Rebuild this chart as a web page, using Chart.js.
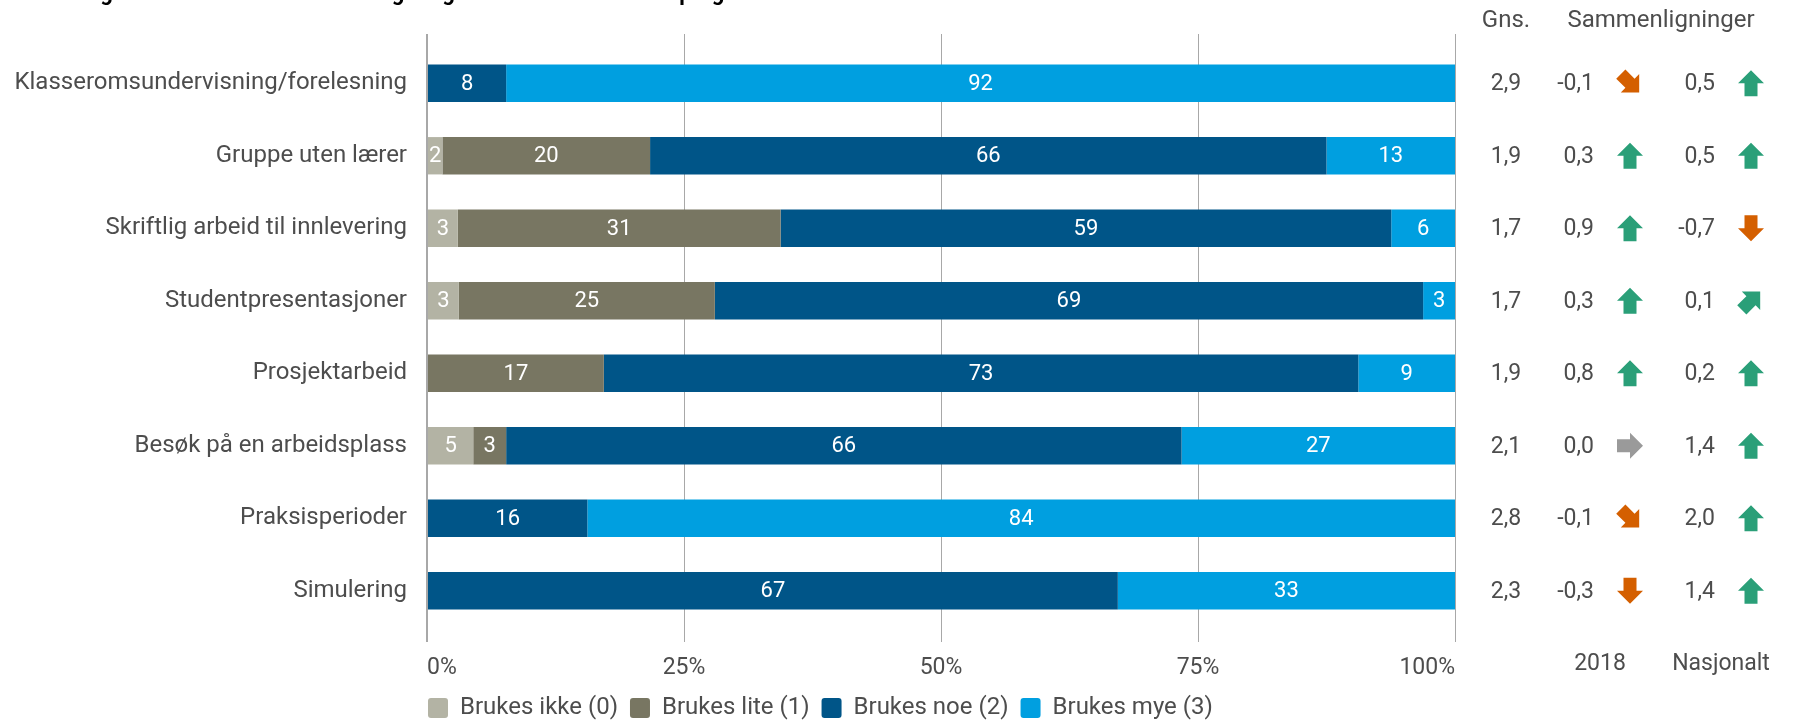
<!DOCTYPE html>
<html>
<head>
<meta charset="utf-8">
<script src="https://cdn.jsdelivr.net/npm/chart.js@4"></script>
<style>
html,body{margin:0;padding:0;background:#fff;}
#wrap{position:relative;width:1796px;height:722px;}
</style>
</head>
<body>
<div id="wrap"><canvas id="c" width="1796" height="722"></canvas></div>
<script>
const titleText = "I hvilken grad brukes ulike undervisnings- og arbeidsformer i studieprogrammet ditt?";
const categories = [
  "Klasseromsundervisning/forelesning",
  "Gruppe uten lærer",
  "Skriftlig arbeid til innlevering",
  "Studentpresentasjoner",
  "Prosjektarbeid",
  "Besøk på en arbeidsplass",
  "Praksisperioder",
  "Simulering"
];
const seriesNames = ["Brukes ikke (0)", "Brukes lite (1)", "Brukes noe (2)", "Brukes mye (3)"];
const brukesIkke = [0, 1.5, 3.0, 3.1, 0, 4.5, 0, 0];
const brukesLite = [0, 20.2, 31.4, 24.9, 17.2, 3.2, 0, 0];
const brukesNoe  = [7.7, 65.8, 59.4, 68.9, 73.4, 65.7, 15.6, 67.2];
const brukesMye  = [92.3, 12.5, 6.2, 3.1, 9.4, 26.6, 84.4, 32.8];
const gns        = ["2,9", "1,9", "1,7", "1,7", "1,9", "2,1", "2,8", "2,3"];
const diff2018   = ["-0,1", "0,3", "0,9", "0,3", "0,8", "0,0", "-0,1", "-0,3"];
const arrow2018  = ["downright", "up", "up", "up", "up", "right", "downright", "down"];
const diffNasj   = ["0,5", "0,5", "-0,7", "0,1", "0,2", "1,4", "2,0", "1,4"];
const arrowNasj  = ["up", "up", "down", "upright", "up", "up", "up", "up"];
const xTicks = [0, 25, 50, 75, 100];
const colors = ["#b3b3a4", "#787662", "#005588", "#009fe0"];

const FONT = "Roboto";
const TXT = "#4d4d4d";

const arrowColor = {up:"#2a9f78", upright:"#2a9f78", down:"#d45f00", downright:"#d45f00", right:"#9a9a9a"};
const arrowAngle = {up:0, upright:Math.PI/4, right:Math.PI/2, downright:3*Math.PI/4, down:Math.PI};

function drawArrow(ctx, cx, cy, type){
  ctx.save();
  ctx.translate(cx, cy);
  ctx.rotate(arrowAngle[type]);
  ctx.fillStyle = arrowColor[type];
  ctx.beginPath();
  ctx.moveTo(0, -13);
  ctx.lineTo(13, 0);
  ctx.lineTo(6.5, 0);
  ctx.lineTo(6.5, 13);
  ctx.lineTo(-6.5, 13);
  ctx.lineTo(-6.5, 0);
  ctx.lineTo(-13, 0);
  ctx.closePath();
  ctx.fill();
  ctx.restore();
}

const LEGEND_PAD = 12;
const extras = {
  id: "extras",
  afterLayout(chart){
    const lg = chart.legend;
    if (lg) {
      const h = lg.height;
      const dx = 428 - LEGEND_PAD - lg.left;
      lg.left += dx; lg.right += dx;
      lg.top = 684;
      lg.bottom = lg.top + h;
    }
  },
  afterDatasetsDraw(chart){
    const ctx = chart.ctx;
    ctx.save();
    ctx.font = "22px " + FONT;
    ctx.fillStyle = "#ffffff";
    ctx.textAlign = "center";
    ctx.textBaseline = "middle";
    chart.data.datasets.forEach((ds, di) => {
      const meta = chart.getDatasetMeta(di);
      meta.data.forEach((el, i) => {
        const v = ds.data[i];
        if (!v) return;
        const cx = (el.x + el.base) / 2;
        ctx.fillText(String(Math.round(v)), cx, el.y + 1);
      });
    });
    ctx.restore();
  },
  afterDraw(chart){
    const ctx = chart.ctx;
    const ys = chart.scales.y;
    ctx.save();
    ctx.font = "bold 22px " + FONT;
    ctx.fillStyle = "#000";
    ctx.textAlign = "left";
    ctx.textBaseline = "alphabetic";
    ctx.fillText(titleText, 12, 0);

    ctx.font = "24px " + FONT;
    ctx.fillStyle = TXT;
    ctx.textBaseline = "middle";
    ctx.textAlign = "center";
    ctx.fillText("Gns.", 1506, 21);
    ctx.fillText("Sammenligninger", 1661, 21);
    ctx.font = "23px " + FONT;
    ctx.fillText("2018", 1600, 664);
    ctx.fillText("Nasjonalt", 1721, 664);

    ctx.font = "23px " + FONT;
    categories.forEach((c, i) => {
      const y = ys.getPixelForValue(i) + 1;
      ctx.textAlign = "center";
      ctx.fillStyle = TXT;
      ctx.fillText(gns[i], 1506, y);
      ctx.textAlign = "right";
      ctx.fillText(diff2018[i], 1594, y);
      ctx.fillText(diffNasj[i], 1715, y);
      drawArrow(ctx, 1630, y - 1, arrow2018[i]);
      drawArrow(ctx, 1751, y - 1, arrowNasj[i]);
    });
    ctx.restore();
  }
};

const gridCfg = (tl) => ({
  color: "#a8a8a8",
  lineWidth: (c) => (c.tick && c.tick.value === 0) ? 2 : 1,
  tickLength: tl,
  drawTicks: true
});

new Chart(document.getElementById("c"), {
  type: "bar",
  data: {
    labels: categories,
    datasets: [brukesIkke, brukesLite, brukesNoe, brukesMye].map((d, i) => ({
      label: seriesNames[i],
      data: d,
      backgroundColor: colors[i],
      borderWidth: 0,
      categoryPercentage: 1,
      barPercentage: 0.515
    }))
  },
  options: {
    indexAxis: "y",
    responsive: false,
    animation: false,
    devicePixelRatio: 1,
    layout: { padding: { top: 34, right: 341, left: 0, bottom: 0 } },
    scales: {
      x: {
        stacked: true, min: 0, max: 100, position: "bottom",
        afterBuildTicks: (s) => { s.ticks = xTicks.map(v => ({value: v})); },
        afterFit: (s) => { s.height = 49; },
        ticks: { callback: (v) => v + "%", font: { family: FONT, size: 23 }, color: TXT, padding: 12, maxRotation: 0, align: "inner" },
        grid: gridCfg(15),
        border: { display: false }
      },
      xTop: {
        type: "linear", min: 0, max: 100, position: "top", axis: "x",
        afterBuildTicks: (s) => { s.ticks = xTicks.map(v => ({value: v})); },
        afterFit: (s) => { s.height = 13; },
        ticks: { display: false },
        grid: gridCfg(13),
        border: { display: false }
      },
      y: {
        stacked: true,
        afterFit: (s) => { s.width = 427; },
        ticks: { font: { family: FONT, size: 24 }, color: TXT, padding: 20 },
        grid: { display: false, drawTicks: false },
        border: { display: false }
      }
    },
    plugins: {
      legend: {
        position: "bottom", align: "start", fullSize: false,
        labels: {
          boxWidth: 20, boxHeight: 20, useBorderRadius: true, borderRadius: 3,
          font: { family: FONT, size: 24 }, color: TXT, padding: LEGEND_PAD
        }
      },
      tooltip: { enabled: false },
      title: { display: false }
    }
  },
  plugins: [extras]
});
</script>
</body>
</html>
